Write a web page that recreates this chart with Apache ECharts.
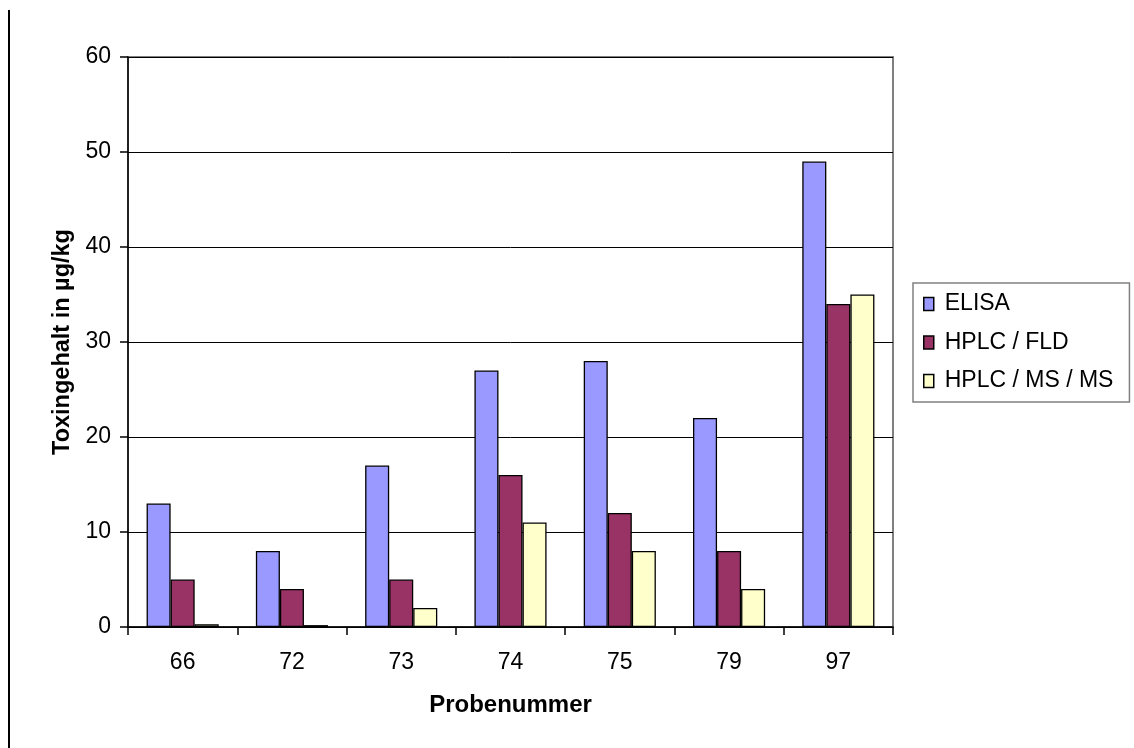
<!DOCTYPE html>
<html>
<head>
<meta charset="utf-8">
<script src="https://cdn.jsdelivr.net/npm/echarts@6/dist/echarts.min.js"></script>
<style>
  html, body { margin: 0; padding: 0; background: #fff; }
  #chart { width: 1134px; height: 748px; }
  #rule { position: absolute; left: 8px; top: 10px; width: 2px; height: 738px; background: #000; }
</style>
</head>
<body>
<div id="rule"></div>
<div id="chart"></div>
<script>
// Sample numbers on the x axis
const categories = ['66', '72', '73', '74', '75', '79', '97'];
// Toxin content in µg/kg per method
const elisa = [13, 8, 17, 27, 28, 22, 49];
const hplcFld = [5, 4, 5, 16, 12, 8, 34];
const hplcMsMs = [0.3, 0.2, 2, 11, 8, 4, 35];
const yTicks = { min: 0, max: 60, interval: 10 };

const font = 'Liberation Sans, Arial, sans-serif';
const chart = echarts.init(document.getElementById('chart'));

function bar(name, data, color) {
  return {
    name, type: 'bar', data,
    barGap: '0%', barCategoryGap: '34%',
    itemStyle: { color, borderColor: '#000', borderWidth: 1.3 }
  };
}

chart.setOption({
  animation: false,
  textStyle: { fontFamily: font },
  grid: { left: 128, top: 57, right: 241, bottom: 121, show: true,
          borderColor: '#808080', borderWidth: 2 },
  legend: {
    orient: 'vertical', left: 913, top: 283,
    padding: [9, 16, 9, 10],
    borderColor: '#808080', borderWidth: 1.5,
    itemWidth: 10, itemHeight: 13, itemGap: 14.5,
    icon: 'rect',
    itemStyle: { borderColor: '#000', borderWidth: 1.5 },
    textStyle: { fontSize: 23, lineHeight: 24, color: '#000', fontFamily: font, padding: [0, 0, 0, 6] },
    data: ['ELISA', 'HPLC / FLD', 'HPLC / MS / MS']
  },
  xAxis: {
    type: 'category', data: categories,
    name: 'Probenummer', nameLocation: 'middle', nameGap: 66,
    nameTextStyle: { fontSize: 24, fontWeight: 'bold', color: '#000' },
    axisLine: { lineStyle: { color: '#000', width: 1.5 } },
    axisTick: { show: true, length: 8, lineStyle: { color: '#000', width: 1.5 } },
    axisLabel: { fontSize: 23, color: '#000', margin: 24 }
  },
  yAxis: {
    type: 'value', min: yTicks.min, max: yTicks.max, interval: yTicks.interval,
    name: 'Toxingehalt in µg/kg', nameLocation: 'middle', nameGap: 51,
    nameTextStyle: { fontSize: 23.5, fontWeight: 'bold', color: '#000' },
    axisLine: { show: true, lineStyle: { color: '#000', width: 1.5 } },
    axisTick: { show: true, length: 8, lineStyle: { color: '#000', width: 1.5 } },
    axisLabel: { fontSize: 23, color: '#000', margin: 17 },
    splitLine: { lineStyle: { color: '#000', width: 1 } }
  },
  series: [
    bar('ELISA', elisa, '#9999FF'),
    bar('HPLC / FLD', hplcFld, '#993366'),
    bar('HPLC / MS / MS', hplcMsMs, '#FFFFCC')
  ]
});
</script>
</body>
</html>
